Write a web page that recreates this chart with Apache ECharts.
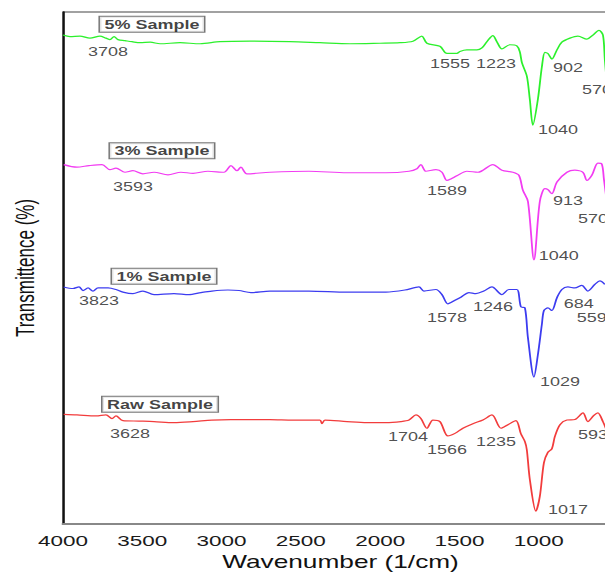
<!DOCTYPE html>
<html>
<head>
<meta charset="utf-8">
<style>
  html, body { margin: 0; padding: 0; background: #fff; overflow: hidden; width: 605px; height: 576px; }
  /* the source figure is stretched sideways, so the chart is too */
  #chart { width: 442px; height: 576px; transform: scaleX(1.5); transform-origin: 0 0; }
</style>
<script src="https://cdn.jsdelivr.net/npm/echarts@6/dist/echarts.min.js"></script>
</head>
<body>
<div id="chart"></div>
<script>
// [wavenumber (1/cm), transmittance with stacking offset]
const fivePct = [
    [4000, 95.5], [3956, 95.2], [3893, 95.3], [3830, 94.9], [3767, 95.3], [3729, 94.9], [3704, 94.6],
    [3678, 95.2], [3653, 94.6], [3609, 94.4], [3565, 94.2], [3514, 94.0], [3450, 94.1], [3388, 93.8],
    [3262, 94.0], [3136, 93.8], [3010, 94.2], [2821, 94.3], [2569, 94.2], [2380, 94.0], [2190, 93.8],
    [2001, 93.9], [1875, 94.0], [1793, 94.3], [1737, 95.3], [1705, 93.9], [1623, 93.3], [1579, 91.9],
    [1516, 91.9], [1497, 92.3], [1453, 92.6], [1390, 92.6], [1358, 93.0], [1327, 94.2], [1289, 95.4],
    [1264, 94.2], [1232, 92.8], [1182, 93.6], [1138, 93.4], [1119, 92.2], [1106, 90.1], [1075, 87.5],
    [1056, 82.9], [1037, 77.9], [1005, 83.0], [980, 89.3], [961, 92.1], [942, 91.9], [917, 90.8],
    [885, 92.6], [854, 94.1], [803, 94.9], [753, 95.3], [696, 94.7], [658, 95.5], [620, 96.4],
    [595, 95.5], [583, 90.7], [570, 86.0]
];
const threePct = [
    [3996, 70.2], [3912, 69.7], [3836, 70.0], [3754, 70.2], [3704, 69.2], [3666, 69.5], [3609, 68.7],
    [3559, 69.0], [3496, 68.4], [3426, 68.7], [3338, 68.2], [3256, 68.7], [3180, 68.5], [3086, 68.9],
    [2985, 68.7], [2941, 70.0], [2903, 69.0], [2878, 69.7], [2840, 68.4], [2695, 68.7], [2449, 68.9],
    [2209, 68.6], [1964, 68.6], [1818, 68.9], [1768, 69.4], [1743, 70.2], [1711, 68.9], [1648, 69.2],
    [1610, 68.7], [1579, 67.1], [1554, 67.4], [1516, 68.0], [1453, 68.9], [1383, 68.7], [1289, 70.2],
    [1232, 69.1], [1163, 68.7], [1125, 68.1], [1100, 65.2], [1068, 63.0], [1030, 51.6], [993, 63.0],
    [961, 65.5], [942, 65.3], [917, 64.5], [885, 66.8], [822, 68.7], [772, 69.1], [721, 68.7],
    [696, 67.1], [665, 68.1], [627, 70.5], [602, 70.3], [589, 67.4], [575, 64.0]
];
const onePct = [
    [3996, 46.3], [3937, 46.0], [3899, 46.3], [3874, 45.6], [3842, 46.1], [3811, 45.5], [3779, 46.1],
    [3716, 46.1], [3666, 45.8], [3622, 45.3], [3559, 45.0], [3496, 45.5], [3426, 44.8], [3300, 45.0],
    [3206, 44.8], [3130, 45.2], [3061, 45.5], [2960, 45.7], [2890, 45.6], [2815, 45.2], [2695, 45.5],
    [2449, 45.5], [2209, 45.3], [1964, 45.3], [1844, 45.7], [1755, 46.3], [1724, 45.5], [1648, 45.8],
    [1610, 44.8], [1573, 43.0], [1528, 43.7], [1491, 44.3], [1440, 45.2], [1396, 45.0], [1346, 45.5],
    [1295, 46.3], [1232, 44.8], [1188, 45.8], [1138, 45.8], [1112, 42.4], [1087, 42.2], [1068, 36.4],
    [1030, 28.7], [1005, 33.1], [980, 39.0], [967, 41.7], [942, 42.2], [917, 41.7], [885, 44.2],
    [854, 45.8], [816, 46.3], [772, 46.1], [728, 46.6], [690, 45.5], [646, 46.8], [614, 47.5], [583, 46.8]
];
const rawSample = [
    [3996, 21.4], [3912, 21.3], [3792, 21.1], [3729, 21.3], [3691, 20.6], [3666, 21.1], [3622, 20.2],
    [3521, 20.1], [3426, 20.0], [3300, 19.8], [3180, 20.0], [3061, 20.3], [2941, 20.4], [2695, 20.4],
    [2550, 20.3], [2380, 20.3], [2367, 19.6], [2348, 20.3], [2209, 20.0], [2083, 19.8], [1964, 19.8],
    [1869, 20.0], [1818, 20.3], [1774, 21.3], [1743, 20.6], [1705, 18.7], [1667, 20.3], [1623, 20.0],
    [1573, 17.2], [1528, 17.7], [1478, 18.7], [1415, 19.6], [1352, 20.3], [1295, 21.3], [1238, 18.7],
    [1194, 19.4], [1144, 20.2], [1112, 17.6], [1087, 16.1], [1075, 14.5], [1056, 8.7], [1018, 2.5],
    [993, 5.4], [967, 12.0], [942, 14.0], [917, 14.7], [898, 17.1], [866, 19.4], [822, 20.3],
    [772, 20.4], [721, 21.7], [690, 20.0], [652, 21.2], [627, 21.7], [595, 20.0], [575, 18.5]
];

// peak annotations: [wavenumber, level, text]
const peakLabels = [
    [3716, 92.2, "3708"], [1560, 89.9, "1555"], [1270, 89.9, "1223"], [816, 89.1, "902"], [633, 84.9, "570"], [879, 77.1, "1040"],
    [3559, 65.9, "3593"], [1579, 65.1, "1589"], [816, 63.2, "913"], [658, 59.7, "570"], [873, 52.5, "1040"],
    [3773, 43.6, "3823"], [1579, 40.3, "1578"], [1289, 42.4, "1246"], [747, 43.0, "684"], [665, 40.3, "559"], [866, 27.7, "1029"],
    [3578, 17.6, "3628"], [1825, 17.1, "1704"], [1579, 14.5, "1566"], [1270, 16.1, "1235"], [658, 17.4, "593"], [816, 2.7, "1017"]
];
const sampleTags = [
    [3439, 97.6, "5% Sample"], [3376, 72.9, "3% Sample"], [3363, 48.4, "1% Sample"], [3388, 23.4, "Raw Sample"]
];

const FONT = "'Liberation Sans', Arial, sans-serif";

function spectrum(name, data, color) {
    return {
        name: name,
        type: "line",
        data: data,
        symbol: "none",
        smooth: 0.3,
        lineStyle: { color: color, width: 1.2 },
        z: 2
    };
}

const chart = echarts.init(document.getElementById("chart"), null, { renderer: "svg", width: 442, height: 576 });

chart.setOption({
    animation: false,
    backgroundColor: "#fff",
    grid: {
        left: 42,
        right: 30,
        top: 12,
        bottom: 48,
        show: true,
        borderColor: "#444",
        borderWidth: 1
    },
    xAxis: {
        type: "value",
        inverse: true,
        min: 500,
        max: 4000,
        interval: 500,
        name: "Wavenumber (1/cm)",
        nameLocation: "middle",
        nameGap: 29,
        nameTextStyle: { fontFamily: FONT, fontSize: 17.5, color: "#111" },
        axisLine: { lineStyle: { color: "#888", width: 2 } },
        axisTick: { show: false },
        splitLine: { show: false },
        axisLabel: {
            showMinLabel: false,
            margin: 9,
            fontFamily: FONT,
            fontSize: 15,
            color: "#1a1a1a",
            formatter: (v) => String(v)
        }
    },
    yAxis: {
        type: "value",
        min: 0,
        max: 100,
        name: "Transmittence (%)",
        nameLocation: "middle",
        nameGap: 17,
        nameTextStyle: { fontFamily: FONT, fontSize: 17, color: "#111" },
        axisLine: { show: true, lineStyle: { color: "#111", width: 1.4 } },
        axisTick: { show: false },
        axisLabel: { show: false },
        splitLine: { show: false }
    },
    series: [
        spectrum("5% Sample", fivePct, "#2cf02c"),
        spectrum("3% Sample", threePct, "#f23cf2"),
        spectrum("1% Sample", onePct, "#3c3cf0"),
        spectrum("Raw Sample", rawSample, "#f23c3c"),
        {
            type: "scatter",
            data: peakLabels,
            symbolSize: 1,
            itemStyle: { color: "rgba(0,0,0,0)" },
            silent: true,
            z: 3,
            label: {
                show: true,
                position: "inside",
                formatter: (p) => p.value[2],
                fontFamily: FONT,
                fontSize: 12,
                color: "#222"
            }
        },
        {
            type: "scatter",
            data: sampleTags,
            symbolSize: 1,
            itemStyle: { color: "rgba(0,0,0,0)" },
            silent: true,
            z: 4,
            label: {
                show: true,
                position: "inside",
                formatter: (p) => p.value[2],
                fontFamily: FONT,
                fontSize: 12,
                fontWeight: "bold",
                color: "#111",
                backgroundColor: "#fff",
                borderColor: "#555",
                borderWidth: 1,
                padding: [2, 3, 1, 3]
            }
        }
    ]
});
</script>
</body>
</html>
